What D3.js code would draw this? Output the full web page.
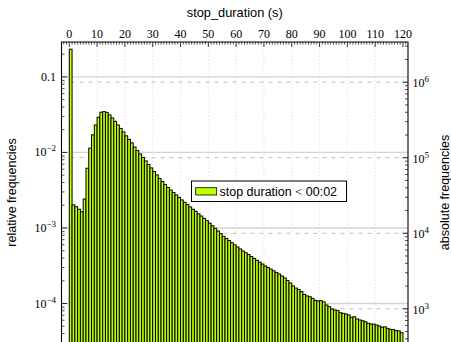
<!DOCTYPE html>
<html>
<head>
<meta charset="UTF-8">
<title>stop_duration</title>
<script src="https://cdn.jsdelivr.net/npm/d3@7/dist/d3.min.js"></script>
<style type="text/css">
	body {
		margin:0;
		background-color:white;
	}
	svg { display:block; }
</style>
</head>
<body>
<script type="text/javascript">

// relative frequency of each 1 s bin (bin i = [i, i+1))
var relFreq = [
 0.233, 2.02e-3, 1.91e-3, 1.77e-3, 1.64e-3, 2.42e-3, 6.18e-3, 1.14e-2, 1.71e-2, 2.31e-2,
 2.92e-2, 3.41e-2, 3.47e-2, 3.39e-2, 3.14e-2, 2.86e-2, 2.58e-2, 2.31e-2, 2.08e-2, 1.87e-2,
 1.66e-2, 1.49e-2, 1.34e-2, 1.18e-2, 1.06e-2, 9.55e-3, 8.59e-3, 7.72e-3, 6.93e-3, 6.24e-3,
 5.60e-3, 5.04e-3, 4.53e-3, 4.13e-3, 3.77e-3, 3.44e-3, 3.18e-3, 2.95e-3, 2.74e-3, 2.54e-3,
 2.35e-3, 2.19e-3, 2.04e-3, 1.90e-3, 1.77e-3, 1.66e-3, 1.54e-3, 1.44e-3, 1.34e-3, 1.25e-3,
 1.16e-3, 1.07e-3, 9.89e-4, 9.12e-4, 8.40e-4, 7.74e-4, 7.26e-4, 6.81e-4, 6.38e-4, 5.99e-4,
 5.60e-4, 5.27e-4, 4.95e-4, 4.69e-4, 4.45e-4, 4.19e-4, 3.96e-4, 3.73e-4, 3.52e-4, 3.33e-4,
 3.14e-4, 2.99e-4, 2.85e-4, 2.71e-4, 2.58e-4, 2.46e-4, 2.31e-4, 2.18e-4, 2.02e-4, 1.87e-4,
 1.71e-4, 1.60e-4, 1.53e-4, 1.44e-4, 1.32e-4, 1.26e-4, 1.23e-4, 1.17e-4, 1.10e-4, 1.08e-4,
 1.09e-4, 1.05e-4, 9.55e-5, 9.07e-5, 8.45e-5, 8.20e-5, 8.10e-5, 7.55e-5, 7.41e-5, 7.26e-5,
 7.05e-5, 6.56e-5, 6.68e-5, 6.24e-5, 6.05e-5, 5.92e-5, 5.74e-5, 5.47e-5, 5.35e-5, 5.33e-5,
 5.19e-5, 5.04e-5, 4.84e-5, 4.91e-5, 4.69e-5, 4.55e-5, 4.52e-5, 4.37e-5, 4.35e-5, 4.10e-5
];
var totalCount = 1.175e7;   // absolute = relative * totalCount
var xTicks = [0, 10, 20, 30, 40, 50, 60, 70, 80, 90, 100, 110, 120];
var relTicks = [1e-1, 1e-2, 1e-3, 1e-4];
var absTicks = [1e3, 1e4, 1e5, 1e6];
var xTitle = 'stop_duration (s)',
 yTitleL = 'relative frequencies',
 yTitleR = 'absolute frequencies',
 legendText = ['stop duration ', '<', ' 00:02'];

var large = 451, haut = 342,
 gauche = 61.5, droite = 408, top0 = 42, bas = 343,
 cBar = '#bfff00', cGrid = '#d4d4d4', cGridR = '#bdbdbd',
 fSerif = '"Liberation Serif", "DejaVu Serif", serif',
 fSans = '"Liberation Sans", Arial, sans-serif';

var x = d3.scaleLinear()
	.domain([-2.8, 121.8])
	.range([gauche, droite]);
var yRel = d3.scaleLog()
	.domain([3.0e-5, 0.29])
	.range([bas, top0]);
var yAbs = d3.scaleLog()
	.domain([3.0e-5 * totalCount, 0.29 * totalCount])
	.range([bas, top0]);

var svg = d3.select('body').append('svg')
	.attr('width', large)
	.attr('height', haut)
	.style('font-family', fSans);

svg.append('rect').attr('width', large).attr('height', haut).attr('fill', 'white');

svg.append('defs').append('clipPath').attr('id', 'zone')
	.append('rect')
	.attr('x', gauche).attr('y', top0)
	.attr('width', droite - gauche).attr('height', bas - top0);

//grilles
var grille = svg.append('g').attr('clip-path', 'url(#zone)');
grille.selectAll('.gx').data(xTicks).enter().append('line')
	.attr('x1', function(d){ return x(d); })
	.attr('x2', function(d){ return x(d); })
	.attr('y1', top0).attr('y2', bas)
	.attr('stroke', cGrid).attr('stroke-width', 0.8)
	.attr('stroke-dasharray', '1,2.5');
grille.selectAll('.gl').data(relTicks).enter().append('line')
	.attr('x1', gauche).attr('x2', droite)
	.attr('y1', function(d){ return yRel(d); })
	.attr('y2', function(d){ return yRel(d); })
	.attr('stroke', cGrid).attr('stroke-width', 1.3);
grille.selectAll('.gr').data(absTicks).enter().append('line')
	.attr('x1', gauche).attr('x2', droite)
	.attr('y1', function(d){ return yAbs(d); })
	.attr('y2', function(d){ return yAbs(d); })
	.attr('stroke', cGridR).attr('stroke-width', 1)
	.attr('stroke-dasharray', '4,5');

//barres
svg.append('g').attr('clip-path', 'url(#zone)')
	.selectAll('rect').data(relFreq).enter().append('rect')
	.attr('x', function(d, i){ return x(i); })
	.attr('width', function(d, i){ return x(i + 1) - x(i); })
	.attr('y', function(d){ return yRel(d); })
	.attr('height', function(d){ return bas + 5 - yRel(d); })
	.attr('fill', cBar)
	.attr('stroke', 'black')
	.attr('stroke-width', 1);

//ticks
var ax = svg.append('g').attr('stroke', 'black');
var minorX = d3.range(-2, 122).filter(function(d){ return d % 10 != 0; });
ax.selectAll('.mx').data(minorX).enter().append('line')
	.attr('x1', function(d){ return x(d); }).attr('x2', function(d){ return x(d); })
	.attr('y1', top0).attr('y2', top0 + 2.5).attr('stroke-width', 0.7);
ax.selectAll('.Mx').data(xTicks).enter().append('line')
	.attr('x1', function(d){ return x(d); }).attr('x2', function(d){ return x(d); })
	.attr('y1', top0).attr('y2', top0 + 5).attr('stroke-width', 0.8);

function logMinor(dom) {
	var out = [];
	var e0 = Math.floor(Math.log10(dom[0])), e1 = Math.ceil(Math.log10(dom[1]));
	for (var e = e0; e <= e1; e++) {
		for (var k = 2; k < 10; k++) {
			var v = k * Math.pow(10, e);
			if (v >= dom[0] && v <= dom[1]) out.push(v);
		}
	}
	return out;
}
ax.selectAll('.ml').data(logMinor(yRel.domain())).enter().append('line')
	.attr('x1', gauche).attr('x2', gauche + 3)
	.attr('y1', function(d){ return yRel(d); }).attr('y2', function(d){ return yRel(d); })
	.attr('stroke-width', 0.7);
ax.selectAll('.Ml').data(relTicks).enter().append('line')
	.attr('x1', gauche).attr('x2', gauche + 5.5)
	.attr('y1', function(d){ return yRel(d); }).attr('y2', function(d){ return yRel(d); })
	.attr('stroke-width', 0.8);
ax.selectAll('.mr').data(logMinor(yAbs.domain())).enter().append('line')
	.attr('x1', droite).attr('x2', droite - 3)
	.attr('y1', function(d){ return yAbs(d); }).attr('y2', function(d){ return yAbs(d); })
	.attr('stroke-width', 0.7);
ax.selectAll('.Mr').data(absTicks).enter().append('line')
	.attr('x1', droite).attr('x2', droite - 5.5)
	.attr('y1', function(d){ return yAbs(d); }).attr('y2', function(d){ return yAbs(d); })
	.attr('stroke-width', 0.8);

//cadre
ax.append('path')
	.attr('d', 'M' + gauche + ',' + bas + 'V' + top0 + 'H' + droite + 'V' + bas)
	.attr('fill', 'none').attr('stroke-width', 1.1);

//labels des ticks
svg.selectAll('.lx').data(xTicks).enter().append('text')
	.attr('x', function(d){ return x(d); })
	.attr('y', 37.5)
	.attr('text-anchor', 'middle')
	.style('font-family', fSerif).style('font-size', '12px')
	.text(function(d){ return d; });

function puissance(sel, v) {
	var e = Math.round(Math.log10(v));
	if (e == -1) { sel.text('0.1'); return; }
	sel.append('tspan').text('10');
	sel.append('tspan').attr('dy', -5).style('font-size', '9px')
		.text(String(e).replace('-', '\u2212'));
}
svg.selectAll('.ll').data(relTicks).enter().append('text')
	.attr('x', 56)
	.attr('y', function(d){ return yRel(d) + 4; })
	.attr('text-anchor', 'end')
	.style('font-family', fSerif).style('font-size', '12px')
	.each(function(d){ puissance(d3.select(this), d); });
svg.selectAll('.lr').data(absTicks).enter().append('text')
	.attr('x', 412.5)
	.attr('y', function(d){ return yAbs(d) + 5; })
	.style('font-family', fSerif).style('font-size', '12px')
	.each(function(d){ puissance(d3.select(this), d); });

//titres
svg.append('text')
	.attr('x', (gauche + droite) / 2).attr('y', 17)
	.attr('text-anchor', 'middle').style('font-size', '12.8px')
	.text(xTitle);
svg.append('text')
	.attr('transform', 'translate(16,' + ((top0 + bas) / 2) + ') rotate(-90)')
	.attr('text-anchor', 'middle').style('font-size', '12.5px')
	.text(yTitleL);
svg.append('text')
	.attr('transform', 'translate(449,' + ((top0 + bas) / 2) + ') rotate(-90)')
	.attr('text-anchor', 'middle').style('font-size', '12.5px')
	.text(yTitleR);

//legende
var leg = svg.append('g');
leg.append('rect')
	.attr('x', 191.5).attr('y', 181).attr('width', 155).attr('height', 20.5)
	.attr('fill', 'white').attr('stroke', 'black').attr('stroke-width', 1);
leg.append('rect')
	.attr('x', 195.7).attr('y', 187.7).attr('width', 21).attr('height', 7.3)
	.attr('fill', cBar).attr('stroke', 'black').attr('stroke-width', 0.8);
var lt = leg.append('text')
	.attr('x', 219.5).attr('y', 195.5)
	.style('font-size', '12.5px');
lt.append('tspan').text(legendText[0]);
lt.append('tspan').style('font-family', fSerif).text(legendText[1]);
lt.append('tspan').text(legendText[2]);

</script>
</body>
</html>
